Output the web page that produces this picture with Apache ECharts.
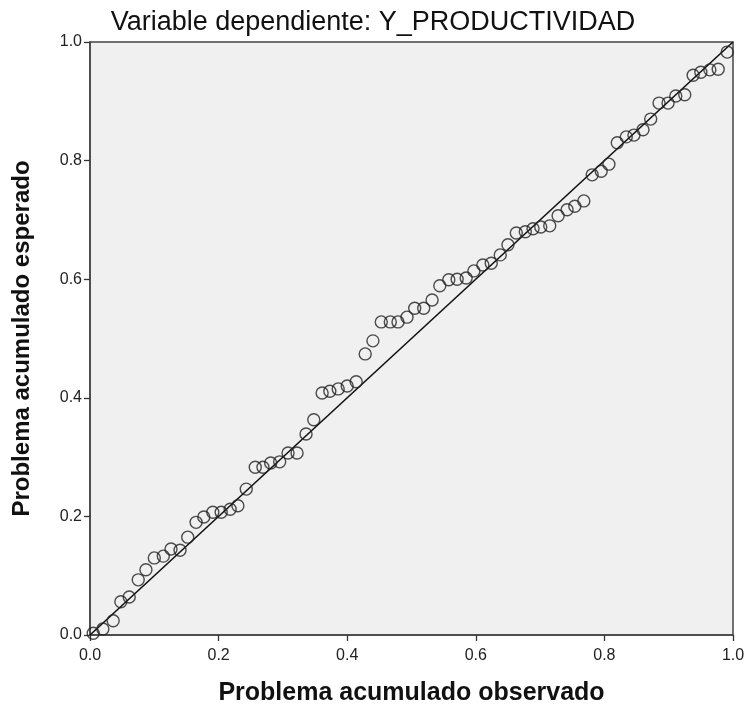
<!DOCTYPE html>
<html>
<head>
<meta charset="utf-8">
<script src="https://cdn.jsdelivr.net/npm/echarts@6/dist/echarts.min.js"></script>
<style>
  html, body { margin: 0; padding: 0; background: #ffffff; }
  #chart { width: 746px; height: 709px; }
</style>
</head>
<body>
<div id="chart"></div>
<script>
// Observed cumulative probability for each residual
const observed = [
  0.005, 0.020, 0.036, 0.048, 0.061, 0.075, 0.087, 0.100, 0.114, 0.126,
  0.140, 0.152, 0.165, 0.177, 0.191, 0.204, 0.218, 0.230, 0.243, 0.257,
  0.269, 0.281, 0.295, 0.308, 0.322, 0.336, 0.348, 0.361, 0.373, 0.386,
  0.400, 0.414, 0.428, 0.440, 0.453, 0.467, 0.479, 0.493, 0.505, 0.519,
  0.532, 0.544, 0.558, 0.571, 0.585, 0.597, 0.611, 0.624, 0.638, 0.650,
  0.663, 0.677, 0.689, 0.701, 0.715, 0.728, 0.742, 0.754, 0.768, 0.781,
  0.795, 0.807, 0.820, 0.834, 0.846, 0.860, 0.872, 0.885, 0.899, 0.911,
  0.925, 0.938, 0.950, 0.964, 0.977, 0.991
];
// Expected cumulative probability under normality
const expected = [
  0.003, 0.010, 0.024, 0.056, 0.064, 0.093, 0.110, 0.130, 0.133, 0.145,
  0.143, 0.165, 0.190, 0.199, 0.207, 0.207, 0.212, 0.218, 0.246, 0.283,
  0.283, 0.290, 0.292, 0.307, 0.307, 0.339, 0.363, 0.408, 0.411, 0.415,
  0.420, 0.427, 0.474, 0.496, 0.528, 0.528, 0.528, 0.536, 0.551, 0.551,
  0.565, 0.589, 0.599, 0.600, 0.602, 0.614, 0.624, 0.627, 0.641, 0.658,
  0.678, 0.680, 0.685, 0.688, 0.690, 0.707, 0.717, 0.723, 0.732, 0.776,
  0.782, 0.794, 0.830, 0.840, 0.843, 0.852, 0.870, 0.897, 0.897, 0.909,
  0.911, 0.944, 0.949, 0.953, 0.954, 0.983
];
// Reference diagonal
const diagonal = [[0, 0], [1, 1]];

const FONT = 'Liberation Sans, Arial, sans-serif';

const chart = echarts.init(document.getElementById('chart'), null, { renderer: 'canvas' });

const points = observed.map((x, i) => [x, expected[i]]);

const axisCommon = {
  type: 'value',
  min: 0,
  max: 1,
  interval: 0.2,
  axisLine: { show: true, onZero: false, lineStyle: { color: '#444', width: 1.5 } },
  axisTick: { show: true, inside: false, length: 6, lineStyle: { color: '#333', width: 1.3 } },
  splitLine: { show: false },
  axisLabel: {
    color: '#222',
    fontFamily: FONT,
    fontSize: 16,
    formatter: v => v.toFixed(1)
  },
  nameLocation: 'middle',
  nameTextStyle: {
    color: '#111',
    fontFamily: FONT,
    fontSize: 24,
    fontWeight: 'bold'
  }
};

chart.setOption({
  backgroundColor: '#ffffff',
  animation: false,
  title: {
    text: 'Variable dependiente: Y_PRODUCTIVIDAD',
    left: 'center',
    top: 4,
    textStyle: {
      color: '#111',
      fontFamily: FONT,
      fontSize: 27,
      fontWeight: 'normal'
    }
  },
  grid: {
    left: 90,
    right: 13,
    top: 42,
    bottom: 74,
    outerBoundsMode: 'none',
    containLabel: false,
    show: true,
    backgroundColor: '#f0f0f0',
    borderColor: '#444',
    borderWidth: 1.5
  },
  xAxis: Object.assign({}, axisCommon, {
    name: 'Problema acumulado observado',
    nameGap: 46,
    nameTextStyle: Object.assign({}, axisCommon.nameTextStyle, { fontSize: 25 }),
    axisLabel: Object.assign({}, axisCommon.axisLabel, { margin: 13 })
  }),
  yAxis: Object.assign({}, axisCommon, {
    name: 'Problema acumulado esperado',
    nameGap: 56,
    axisLabel: Object.assign({}, axisCommon.axisLabel, { margin: 8 })
  }),
  series: [
    {
      type: 'line',
      data: diagonal,
      symbol: 'none',
      lineStyle: { color: '#111', width: 1.6 },
      silent: true,
      z: 3
    },
    {
      type: 'scatter',
      data: points,
      symbol: 'circle',
      symbolSize: 12,
      itemStyle: {
        color: 'rgba(0,0,0,0)',
        borderColor: '#222',
        borderWidth: 1.4
      },
      z: 4
    }
  ]
});
</script>
</body>
</html>
